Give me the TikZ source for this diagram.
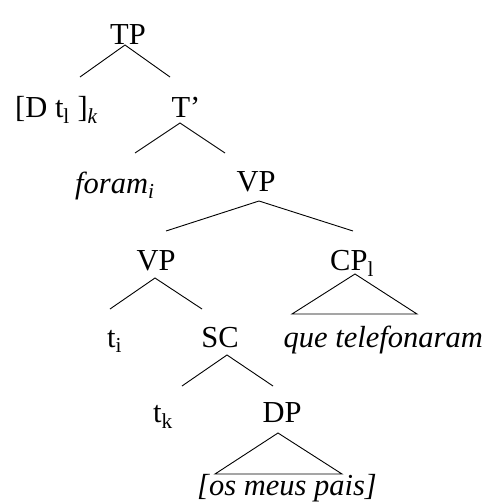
\documentclass[tikz,border=0pt]{standalone}
\usepackage{fontspec}
\setmainfont{Liberation Serif}
\usetikzlibrary{calc}
\tikzset{
  lab/.style={inner sep=0pt, font=\fontsize{30.5pt}{36pt}\selectfont},
  branch/.style={line width=0.9pt, line join=miter}
}
\begin{document}
\begin{tikzpicture}[x=1pt,y=-1pt]
\useasboundingbox (0,0) rectangle (483,503);
% nodes
\node[lab, anchor=base] (tp) at (128,45) {TP};
\node[lab, anchor=base west] (dtk) at (15,117) {[D t\textsubscript{l} ]\textsubscript{\itshape k}};
\node[lab, anchor=base] (tbar) at (186,117) {T'};
\node[lab, anchor=base west] (foram) at (75,193) {\itshape foram\textsubscript{i}};
\node[lab, anchor=base] (vpa) at (256,191) {VP};
\node[lab, anchor=base] (vpb) at (156,270) {VP};
\node[lab, anchor=base west] (cp) at (330,270) {CP\textsubscript{l}};
\node[lab, anchor=base west] (ti) at (107,347) {t\textsubscript{i}};
\node[lab, anchor=base] (sc) at (220,347) {SC};
\node[lab, anchor=base east] (que) at (483,347) {\itshape que telefonaram};
\node[lab, anchor=base west] (tk) at (153,422) {t\textsubscript{k}};
\node[lab, anchor=base] (dp) at (282,422) {DP};
\node[lab, anchor=base west] (os) at (197,495) {\itshape [os meus pais]};
% branches
\draw[branch] ($(dtk.base west)+(65,-40)$) -- ($(tp.base)+(-3,0)$) -- ($(tbar.base)+(-16,-40)$);
\draw[branch] ($(foram.base west)+(60,-40)$) -- ($(tbar.base)+(-6,6)$) -- ($(vpa.base)+(-31,-38)$);
\draw[branch] ($(vpb.base)+(10,-39)$) -- ($(vpa.base)+(3,10)$) -- ($(cp.base west)+(23,-39)$);
\draw[branch] ($(ti.base west)+(3,-38)$) -- ($(vpb.base)+(-1,8)$) -- ($(sc.base)+(-18,-38)$);
\draw[branch] ($(que.base east)+(-191,-33)$) -- ($(cp.base west)+(25,4)$) -- ($(que.base east)+(-66,-33)$) -- cycle;
\draw[branch] ($(tk.base west)+(29,-36)$) -- ($(sc.base)+(7,8)$) -- ($(dp.base)+(-9,-36)$);
\draw[branch] ($(os.base west)+(18,-21)$) -- ($(dp.base)+(-4,11)$) -- ($(os.base west)+(145,-21)$) -- cycle;
\end{tikzpicture}
\end{document}
